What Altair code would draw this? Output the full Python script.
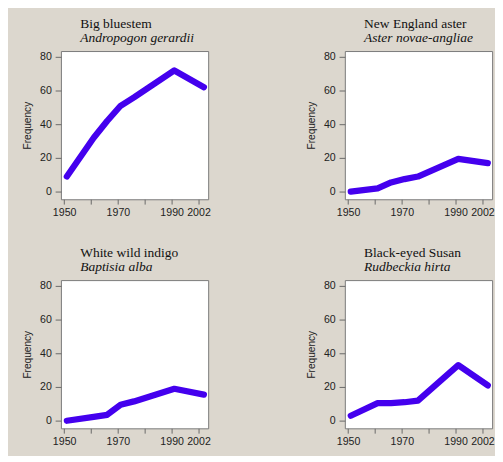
import altair as alt
import pandas as pd

years = [1951, 1961, 1966, 1971, 1976, 1991, 2002]
big_bluestem = [9, 32, 42, 51, 56, 72, 62]
new_england_aster = [0, 2, 5.5, 7.5, 9, 19.5, 17]
white_wild_indigo = [0, 2.3, 3.5, 9.5, 11.5, 19, 15.5]
black_eyed_susan = [3, 10.5, 10.5, 11, 12, 33, 21]

species = [
    ("Big bluestem", "Andropogon gerardii", big_bluestem),
    ("New England aster", "Aster novae-angliae", new_england_aster),
    ("White wild indigo", "Baptisia alba", white_wild_indigo),
    ("Black-eyed Susan", "Rudbeckia hirta", black_eyed_susan),
]

x_ticks = [1950, 1960, 1970, 1980, 1990, 2000]
y_ticks = [0, 20, 40, 60, 80]

BG = "#dcd7ce"
LINE = "#4400ee"


def panel(common, latin, values):
    df = pd.DataFrame({"Year": years, "Frequency": values})
    return (
        alt.Chart(df)
        .mark_line(color=LINE, strokeWidth=6.5, strokeCap="round", strokeJoin="round")
        .encode(
            x=alt.X(
                "Year:Q",
                scale=alt.Scale(domain=[1948.8, 2003.6], nice=False, zero=False),
                axis=alt.Axis(
                    values=x_ticks,
                    labelExpr="datum.value == 2000 ? '2002' : (datum.value % 20 == 10 ? datum.value + '' : '')",
                    title=None,
                    grid=False,
                    domain=False,
                    tickSize=5,
                    tickColor="#666",
                    labelPadding=3,
                    labelFont="Liberation Sans",
                    labelFontSize=11,
                    labelColor="#222",
                    labelOverlap=False,
                    labelFlush=False,
                ),
            ),
            y=alt.Y(
                "Frequency:Q",
                scale=alt.Scale(domain=[-4.5, 83.5], nice=False, zero=False),
                axis=alt.Axis(
                    values=y_ticks,
                    title="Frequency",
                    titleFont="Liberation Sans",
                    titleFontSize=10.5,
                    titleFontWeight="normal",
                    titleColor="#222",
                    titlePadding=7,
                    grid=False,
                    domain=False,
                    tickSize=6,
                    tickColor="#666",
                    labelPadding=4,
                    labelFont="Liberation Sans",
                    labelFontSize=11,
                    labelColor="#222",
                ),
            ),
        )
        .properties(
            width=153,
            height=154,
            title=alt.TitleParams(
                text=common,
                subtitle=latin,
                anchor="start",
                frame="group",
                dx=20,
                offset=6,
                font="Liberation Serif",
                fontSize=14,
                fontWeight="normal",
                color="#111",
                subtitleFont="Liberation Serif",
                subtitleFontSize=14,
                subtitleFontStyle="italic",
                subtitleColor="#111",
                subtitlePadding=1,
            ),
        )
    )


panels = [panel(c, l, v) for c, l, v in species]

chart = (
    alt.vconcat(
        alt.hconcat(panels[0], panels[1], spacing=99),
        alt.hconcat(panels[2], panels[3], spacing=99),
        spacing=28,
    )
    .configure(background=BG, padding={"left": 15, "top": 0, "right": 0, "bottom": 0})
    .configure_view(fill="white", stroke="#777", strokeWidth=1)
)

chart.save("out.html", embed_options={"renderer": "svg", "actions": False})
